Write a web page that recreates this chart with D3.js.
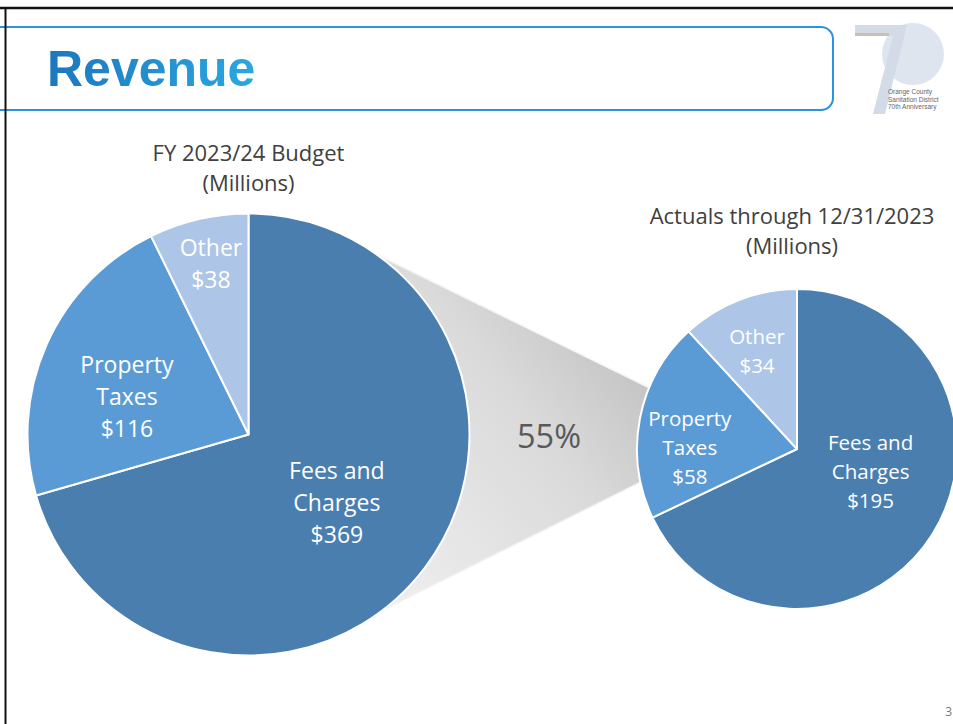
<!DOCTYPE html>
<html>
<head>
<meta charset="utf-8">
<script src="https://cdn.jsdelivr.net/npm/d3@7/dist/d3.min.js"></script>
<style>
  html, body { margin: 0; padding: 0; background: #fff; }
  svg { display: block; }
  .lbl { font-family: "Open Sans", "DejaVu Sans", sans-serif; fill: #fff; }
  .ttl { font-family: "Open Sans", "DejaVu Sans", sans-serif; fill: #404040; }
</style>
</head>
<body>
<svg id="canvas"></svg>
<script>
// ########## Data ##########
var categories = ["Fees and Charges", "Property Taxes", "Other"];
var labelLines = [["Fees and", "Charges"], ["Property", "Taxes"], ["Other"]];
var budgetValues = [369, 116, 38];
var actualValues = [195, 58, 34];
var budgetTitle = ["FY 2023/24 Budget", "(Millions)"];
var actualTitle = ["Actuals through 12/31/2023", "(Millions)"];
var pctLabel = "55%";

var colors = ["#4a7eaf", "#5b9bd5", "#adc5e6"];

var w = 953, h = 724;

var svg = d3.select("#canvas")
    .attr("width", w)
    .attr("height", h);

var defs = svg.append("defs");

// ########## Slide frame ##########
// title box
svg.append("rect")
    .attr("x", -20).attr("y", 27).attr("width", 853).attr("height", 83)
    .attr("rx", 12).attr("ry", 12)
    .attr("fill", "#fff").attr("stroke", "#2c92db").attr("stroke-width", 2);

svg.append("line").attr("x1", 0).attr("x2", w).attr("y1", 8).attr("y2", 8)
    .attr("stroke", "#111").attr("stroke-width", 2.5);
svg.append("line").attr("x1", 5.5).attr("x2", 5.5).attr("y1", 8).attr("y2", h)
    .attr("stroke", "#111").attr("stroke-width", 2);

var tg = defs.append("linearGradient").attr("id", "titleGrad")
    .attr("x1", "0%").attr("x2", "100%").attr("y1", "0%").attr("y2", "0%");
tg.append("stop").attr("offset", "0%").attr("stop-color", "#1d77be");
tg.append("stop").attr("offset", "100%").attr("stop-color", "#2aa8e0");

svg.append("text")
    .attr("x", 47).attr("y", 86)
    .attr("font-family", "'Liberation Sans', Arial, sans-serif")
    .attr("font-weight", "bold").attr("font-size", 50)
    .attr("fill", "url(#titleGrad)")
    .text("Revenue");

// logo (70th anniversary)
var logo = svg.append("g");
logo.append("circle").attr("cx", 913).attr("cy", 54).attr("r", 31).attr("fill", "#dfe5ef");
logo.append("path")
    .attr("d", "M855,25 L907,25 L885,114 L873,114 L893,36 L855,36 Z")
    .attr("fill", "#d3dbe8");
logo.append("rect").attr("x", 855).attr("y", 33).attr("width", 34).attr("height", 3).attr("fill", "#c9c0ae");
["Orange County", "Sanitation District", "70th Anniversary"].forEach(function (t, i) {
    logo.append("text")
        .attr("x", 888).attr("y", 94 + i * 7.5)
        .attr("font-family", "'Liberation Sans', Arial, sans-serif")
        .attr("font-size", 6.5).attr("fill", "#666")
        .text(t);
});

// page number
svg.append("text").attr("x", 952).attr("y", 716).attr("text-anchor", "end")
    .attr("font-family", "'Open Sans', sans-serif").attr("font-size", 12).attr("fill", "#777")
    .text("3");

// ########## Pie layout ##########
var pie = d3.pie().sort(null).value(function (d) { return d; });

var left = { cx: 248.5, cy: 434.5, r: 221, fs: 23, lh: 32, tdx: 0,
    lpos: [[0.40, 0.31], [-0.55, -0.17], [-0.17, -0.77]] };
var right = { cx: 797, cy: 449, r: 160, fs: 20.5, lh: 29, tdx: -5,
    lpos: [[0.46, 0.14], [-0.67, -0.01], [-0.25, -0.61]] };

// ########## Funnel (drawn behind the pies) ##########
function onCircle(c, deg) {
    var a = deg * Math.PI / 180;
    return [c.cx + c.r * Math.sin(a), c.cy - c.r * Math.cos(a)];
}
var fg = defs.append("linearGradient").attr("id", "funnelGrad")
    .attr("x1", "0%").attr("y1", "100%").attr("x2", "100%").attr("y2", "0%");
fg.append("stop").attr("offset", "0%").attr("stop-color", "#f0f0f0");
fg.append("stop").attr("offset", "55%").attr("stop-color", "#dadada");
fg.append("stop").attr("offset", "100%").attr("stop-color", "#b6b6b6");

var funnelPts = [onCircle(left, 35.5), onCircle(right, 292.5), onCircle(right, 258), onCircle(left, 143)];
svg.append("path")
    .attr("d", d3.line()(funnelPts) + "Z")
    .attr("fill", "url(#funnelGrad)")
    .attr("stroke", "#f4f4f4").attr("stroke-width", 1.5);

svg.append("text")
    .attr("x", 549).attr("y", 437).attr("dy", "0.35em")
    .attr("text-anchor", "middle")
    .attr("font-family", "'Open Sans', sans-serif").attr("font-size", 32.5)
    .attr("fill", "#595959")
    .text(pctLabel);

// ########## Pies ##########
function drawPie(cfg, values, title, titleY, titleFs) {
    var g = svg.append("g").attr("transform", "translate(" + cfg.cx + "," + cfg.cy + ")");
    var arc = d3.arc().innerRadius(0).outerRadius(cfg.r);

    g.selectAll(".slice")
        .data(pie(values)).enter()
        .append("path")
        .attr("class", "slice")
        .attr("d", arc)
        .attr("fill", function (d, i) { return colors[i]; })
        .attr("stroke", "#fff")
        .attr("stroke-width", 2)
        .attr("stroke-linejoin", "round");

    values.forEach(function (v, i) {
        var lines = labelLines[i].concat(["$" + v]);
        var x = cfg.lpos[i][0] * cfg.r;
        var y = cfg.lpos[i][1] * cfg.r;
        var t = g.append("text")
            .attr("class", "lbl")
            .attr("text-anchor", "middle")
            .attr("font-size", cfg.fs);
        lines.forEach(function (ln, j) {
            t.append("tspan")
                .attr("x", x)
                .attr("y", y + (j - (lines.length - 1) / 2) * cfg.lh)
                .attr("dy", "0.35em")
                .text(ln);
        });
    });

    var tt = svg.append("text").attr("class", "ttl")
        .attr("text-anchor", "middle").attr("font-size", titleFs);
    title.forEach(function (ln, j) {
        tt.append("tspan")
            .attr("x", cfg.cx + cfg.tdx)
            .attr("y", titleY + j * 30)
            .attr("dy", "0.35em")
            .text(ln);
    });
}

drawPie(left, budgetValues, budgetTitle, 153, 22);
drawPie(right, actualValues, actualTitle, 216, 22);
</script>
</body>
</html>
